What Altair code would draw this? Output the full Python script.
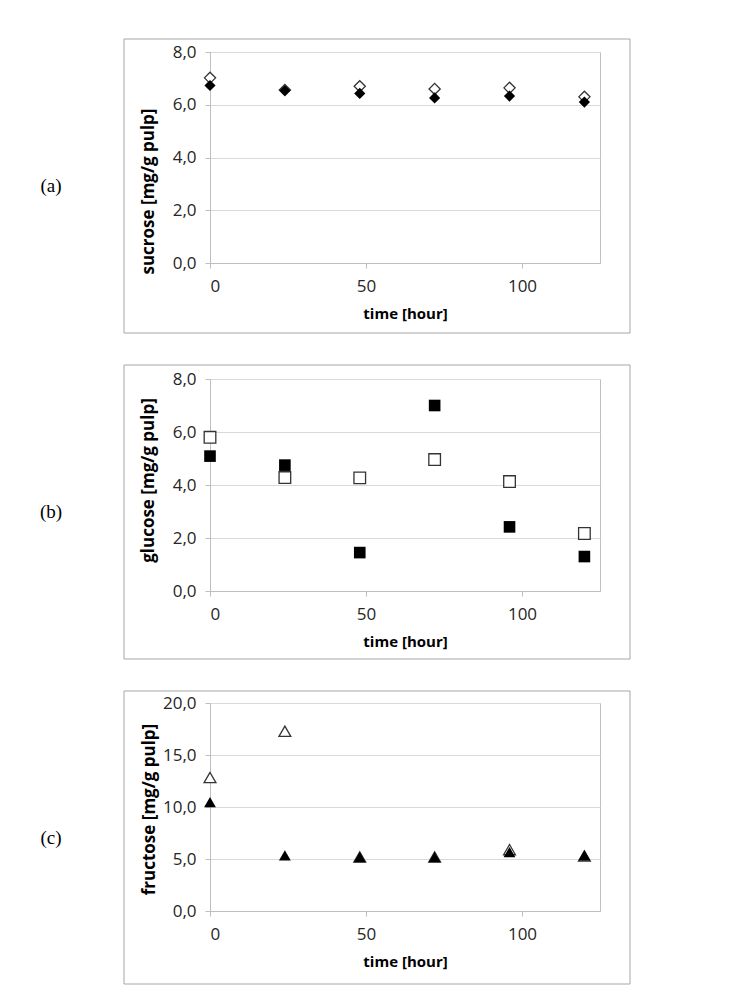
import altair as alt
import pandas as pd

# Sampling times (hours) and measured sugar contents (mg/g pulp)
hours = [0, 24, 48, 72, 96, 120]

sucrose_open = [7.02, 6.56, 6.70, 6.60, 6.64, 6.30]
sucrose_filled = [6.73, 6.54, 6.43, 6.26, 6.33, 6.10]

glucose_open = [5.80, 4.28, 4.27, 4.96, 4.13, 2.17]
glucose_filled = [5.09, 4.75, 1.45, 7.00, 2.42, 1.30]

fructose_open = [12.83, 17.28, 5.20, 5.20, 5.90, 5.30]
fructose_filled = [10.48, 5.36, 5.19, 5.19, 5.67, 5.36]

x_ticks = [0, 50, 100]

PLOT_W = 390
FONT = "Open Sans"
COMMA = "replace(format(datum.value, '.1f'), '.', ',')"


def panel(tag, ytitle, open_vals, filled_vals, shape, ymax, ystep, height,
          top_pad, bottom_pad, size, ytitle_pad, ytitle_y, anchor=False):
    df = pd.DataFrame({"hour": hours, "open": open_vals, "filled": filled_vals})
    one = pd.DataFrame({"k": [0]})

    xscale = alt.Scale(domain=[0, 125], nice=False, zero=False)
    xaxis = alt.Axis(values=x_ticks, title="time [hour]", grid=False,
                     labelPadding=10, titlePadding=12, titleFontSize=15)
    yscale = alt.Scale(domain=[0, ymax], nice=False)
    yaxis = alt.Axis(values=list(range(0, ymax + 1, ystep)), labelExpr=COMMA,
                     title=ytitle, grid=True, labelPadding=9,
                     titlePadding=ytitle_pad, titleFontSize=17, titleY=ytitle_y)

    # outer chart border
    frame = alt.Chart(one).mark_rect(
        fill="transparent", stroke="#a6a6a6", strokeWidth=1
    ).encode(
        x=alt.value(-86), x2=alt.value(PLOT_W + 30),
        y=alt.value(-top_pad), y2=alt.value(height + bottom_pad),
    )

    open_layer = alt.Chart(df).mark_point(
        shape=shape, filled=True, fill="white", stroke="#333333",
        strokeWidth=1.3, size=size, opacity=1,
    ).encode(
        x=alt.X("hour:Q", scale=xscale, axis=xaxis),
        y=alt.Y("open:Q", scale=yscale, axis=yaxis),
    )

    filled_layer = alt.Chart(df).mark_point(
        shape=shape, filled=True, color="black", size=size, opacity=1,
    ).encode(
        x=alt.X("hour:Q", scale=xscale, axis=xaxis),
        y=alt.Y("filled:Q", scale=yscale, axis=yaxis),
    )

    label = alt.Chart(one).mark_text(
        text=tag, font="Liberation Serif", fontSize=19,
        align="center", baseline="middle", color="black",
    ).encode(
        x=alt.value(-159),
        y=alt.value((height + bottom_pad - top_pad) / 2),
    )

    layers = [frame, open_layer, filled_layer, label]
    if anchor:
        # white corner pixel pinning the page origin
        layers.append(
            alt.Chart(one).mark_rect(fill="white", stroke="white").encode(
                x=alt.value(-209), x2=alt.value(-208),
                y=alt.value(-51), y2=alt.value(-50),
            )
        )
    return alt.layer(*layers).properties(width=PLOT_W, height=height)


a = panel("(a)", "sucrose [mg/g pulp]", sucrose_open, sucrose_filled,
          "diamond", 8, 2, 211, 13, 70, 125, 15, 139, anchor=True)
b = panel("(b)", "glucose [mg/g pulp]", glucose_open, glucose_filled,
          "square", 8, 2, 212, 14, 68, 135, 15, 101)
c = panel("(c)", "fructose [mg/g pulp]", fructose_open, fructose_filled,
          "triangle-up", 20, 5, 208, 12, 73, 140, 4, 106)

chart = alt.vconcat(a, b, c, spacing=30).properties(
    padding=0, background="white"
).configure_view(
    stroke="#bfbfbf", strokeWidth=1
).configure_axis(
    labelFont=FONT, labelFontSize=17, labelColor="#262626",
    titleFont=FONT, titleFontWeight="bold", titleColor="black",
    domainColor="#bfbfbf", tickColor="#bfbfbf", tickSize=5,
    gridColor="#d9d9d9", gridWidth=1,
)

chart.save("out.html", embed_options={"renderer": "svg", "actions": False})
